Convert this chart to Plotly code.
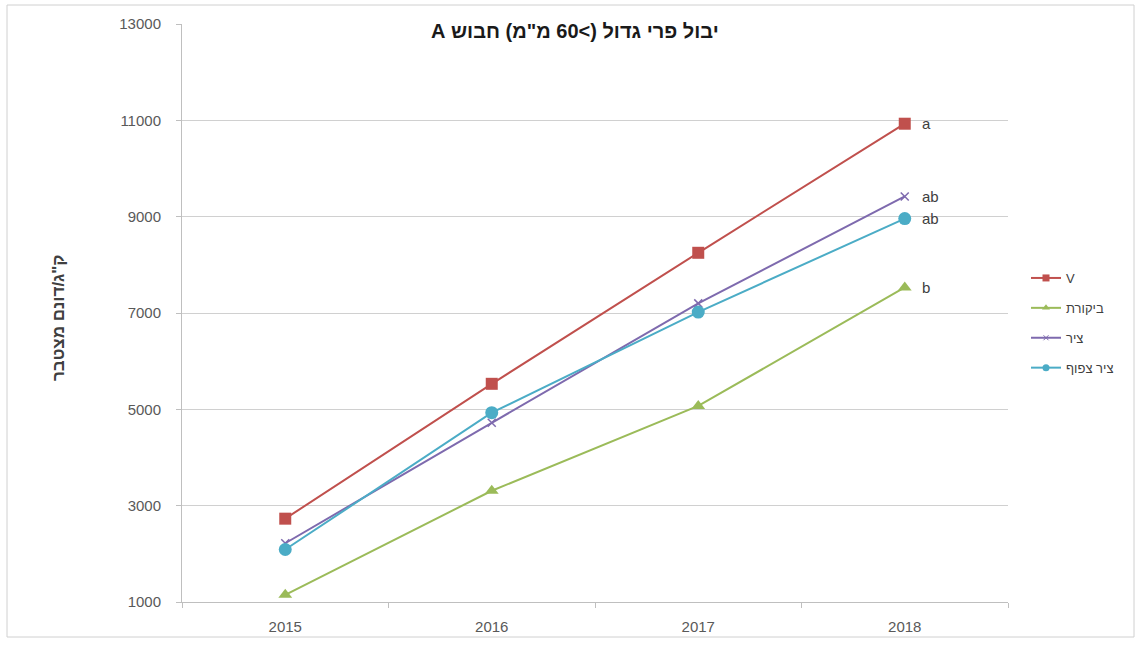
import plotly.graph_objects as go

# Years on the category axis
years = ["2015", "2016", "2017", "2018"]

# Cumulative yield (kg/dunam) per treatment
v_values = [2730, 5530, 8250, 10930]
control_values = [1150, 3310, 5070, 7530]
axis_values = [2220, 4720, 7200, 9420]
dense_axis_values = [2090, 4930, 7020, 8960]

# Significance letter shown next to each treatment's last point
v_letter = "a"
control_letter = "b"
axis_letter = "ab"
dense_letter = "ab"

y_ticks = [1000, 3000, 5000, 7000, 9000, 11000, 13000]

FONT = "Liberation Sans, Arial, sans-serif"
TEXT_COLOR = "#404040"

series = [
    ("V", v_values, v_letter, "#C0504D", dict(symbol="square", size=12), dict(symbol="square", size=7)),
    ("ביקורת", control_values, control_letter, "#9BBB59", dict(symbol="triangle-up", size=12), dict(symbol="triangle-up", size=7)),
    ("ציר", axis_values, axis_letter, "#7E6AAE",
     dict(symbol="x-thin-open", size=8, line=dict(width=1.5, color="#B0A6CC")),
     dict(symbol="x-thin-open", size=5, line=dict(width=1, color="#B0A6CC"))),
    ("ציר צפוף", dense_axis_values, dense_letter, "#4BACC6", dict(symbol="circle", size=13), dict(symbol="circle", size=7)),
]

fig = go.Figure()
annotations = []
last = len(years) - 1
for i, (name, vals, letter, color, marker, legend_marker) in enumerate(series):
    mk = dict(color=color)
    mk.update(marker)
    fig.add_trace(go.Scatter(
        x=years, y=vals, name=name, legendgroup=f"g{i}", showlegend=False,
        mode="lines+markers",
        line=dict(color=color, width=2),
        marker=mk,
        cliponaxis=False,
    ))
    # legend entry with smaller symbol
    lmk = dict(color=color)
    lmk.update(legend_marker)
    fig.add_trace(go.Scatter(
        x=[None], y=[None], name=name, legendgroup=f"g{i}", showlegend=True,
        mode="lines+markers", line=dict(color=color, width=2), marker=lmk,
    ))
    annotations.append(dict(
        x=last, y=vals[last], xref="x", yref="y", text=letter,
        xanchor="left", yanchor="middle", xshift=15, showarrow=False,
        font=dict(family=FONT, size=15, color=TEXT_COLOR),
    ))

L, R, T, B = 182, 136, 24, 44
W, H = 1144, 646
pw, ph = W - L - R, H - T - B


def px_x(p):
    return (p - L) / pw


def px_y(p):
    return (H - B - p) / ph


annotations += [
    dict(text="\u202Bיבול פרי גדול (>60 מ\"מ) חבוש A\u202C",
         xref="paper", yref="paper", x=px_x(575), y=px_y(31),
         xanchor="center", yanchor="middle", showarrow=False,
         bgcolor="white", borderpad=5,
         font=dict(family=FONT, size=20, color="#1A1A1A", weight="bold")),
    dict(text="ק\"ג/דונם מצטבר",
         xref="paper", yref="paper", x=px_x(58), y=px_y(318),
         xanchor="center", yanchor="middle", showarrow=False,
         textangle=-90,
         font=dict(family=FONT, size=17, color=TEXT_COLOR, weight="bold")),
]

fig.update_layout(
    width=W, height=H,
    margin=dict(l=L, r=R, t=T, b=B),
    paper_bgcolor="white", plot_bgcolor="white",
    font=dict(family=FONT, size=13, color=TEXT_COLOR),
    showlegend=True,
    legend=dict(
        x=px_x(1026), y=px_y(263), xanchor="left", yanchor="top",
        font=dict(family=FONT, size=13, color=TEXT_COLOR),
        tracegroupgap=10, itemwidth=30,
        bgcolor="rgba(0,0,0,0)",
    ),
    xaxis=dict(
        type="category", tickson="boundaries", range=[-0.5, 3.5],
        showline=True, linecolor="#BFBFBF", linewidth=1,
        ticks="outside", ticklen=5, tickcolor="#BFBFBF",
        showgrid=False, zeroline=False, ticklabelstandoff=11,
        tickfont=dict(family=FONT, size=15, color="#595959"),
    ),
    yaxis=dict(
        range=[1000, 13000], tickvals=y_ticks, tickformat="d",
        showline=True, linecolor="#BFBFBF", linewidth=1,
        ticks="outside", ticklen=5, tickcolor="#BFBFBF",
        showgrid=True, gridcolor="#D0D0D0", gridwidth=1,
        zeroline=False, ticklabelstandoff=12,
        tickfont=dict(family=FONT, size=15, color="#595959"),
    ),
    shapes=[
        dict(type="rect", xref="paper", yref="paper",
             x0=px_x(7), x1=px_x(1134), y0=px_y(637), y1=px_y(5),
             line=dict(color="#D0D0D0", width=1), fillcolor="rgba(0,0,0,0)",
             layer="below"),
    ],
    annotations=annotations,
)

fig.write_html("out.html")
